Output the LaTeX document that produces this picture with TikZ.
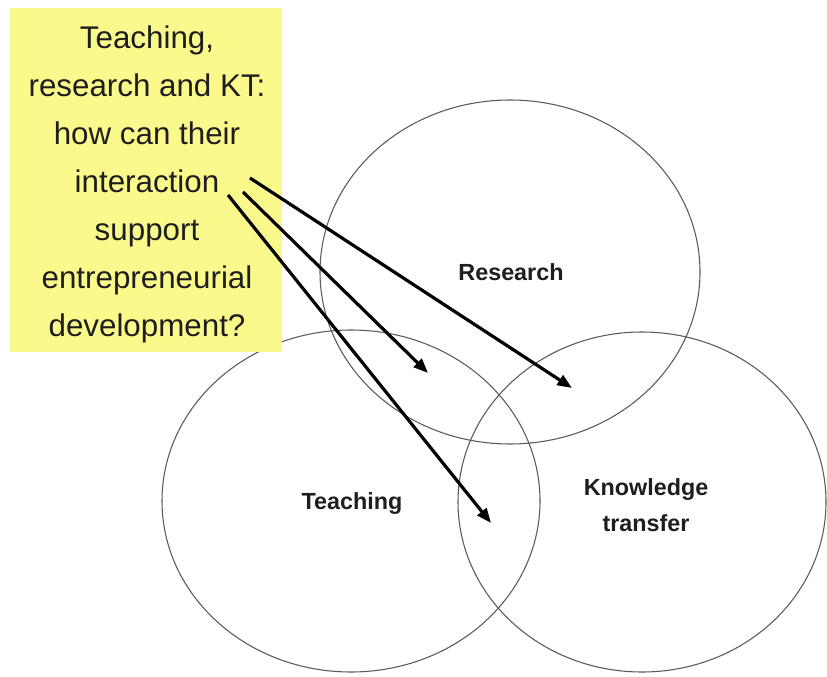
\documentclass[tikz,border=0pt]{standalone}
\usepackage{fontspec}
\setmainfont{Liberation Sans}
\usetikzlibrary{arrows.meta}
\definecolor{boxyellow}{RGB}{250,250,140}
\definecolor{ringgray}{RGB}{90,90,90}
\definecolor{inkdark}{RGB}{30,30,30}
\tikzset{
  ring/.style={draw=ringgray, line width=0.8pt},
  lbl/.style={font=\fontsize{17.5}{27}\selectfont\bfseries, text=inkdark, align=center},
  pointer/.style={draw=black, line width=2.4pt, -{Triangle[length=11pt,width=8.5pt]}},
  qbox/.style={fill=boxyellow, draw=none},
  qtext/.style={font=\fontsize{23.5}{36}\selectfont, text=inkdark, align=center}
}
\begin{document}
\begin{tikzpicture}[x=0.75pt,y=-0.75pt]
\useasboundingbox (0,0) rectangle (827,677);
\fill[white] (0,0) rectangle (827,677);
% circles
\draw[ring] (510,272) ellipse [x radius=190, y radius=172];
\draw[ring] (351,501) ellipse [x radius=189, y radius=171];
\draw[ring] (642,502) ellipse [x radius=184, y radius=170];
% labels
\node[lbl] (research) at (511,272) {Research};
\node[lbl] (teaching) at (352,504) {Teaching};
\node[lbl] (kt) at (646,505) {Knowledge\\transfer};
% question box
\node[qbox, minimum width=272*0.75pt, minimum height=344*0.75pt] (box) at (146,180) {};
\node[qtext] (q) at (147,184) {Teaching,\\research and KT:\\how can their\\interaction\\support\\entrepreneurial\\development?};
% arrows
\coordinate (s1) at (250,178);
\coordinate (e1) at (572,388);
\coordinate (s2) at (243,192);
\coordinate (e2) at (428,373);
\coordinate (s3) at (228,195);
\coordinate (e3) at (491,523);
\draw[pointer] (s1) -- (e1);
\draw[pointer] (s2) -- (e2);
\draw[pointer] (s3) -- (e3);
\end{tikzpicture}
\end{document}
